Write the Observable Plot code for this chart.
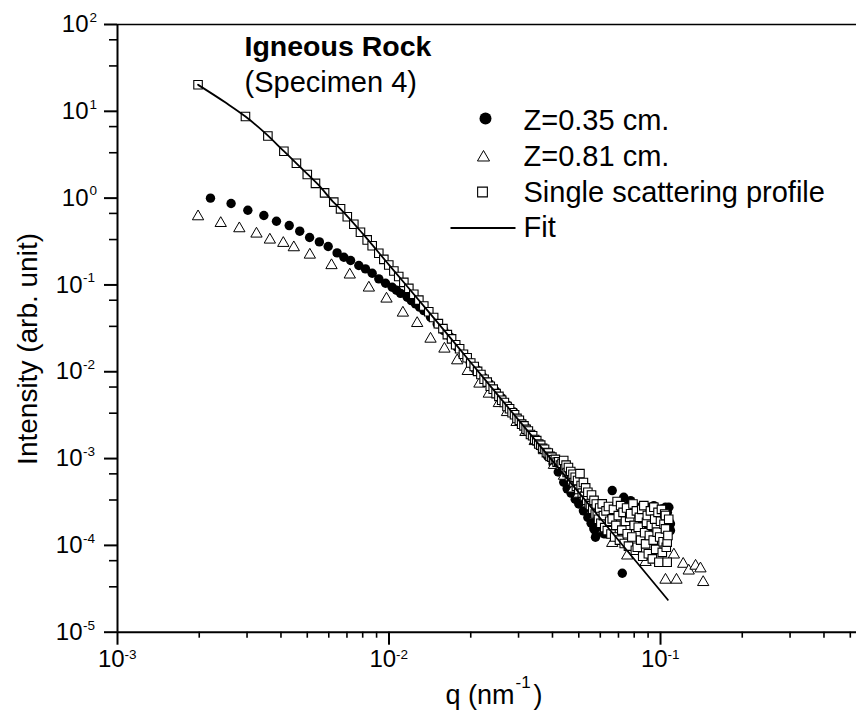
<!DOCTYPE html>
<html>
<head>
<meta charset="utf-8">
<script src="https://cdn.jsdelivr.net/npm/d3@7"></script>
<script src="https://cdn.jsdelivr.net/npm/@observablehq/plot@0.6"></script>
<style>
  html, body { margin: 0; padding: 0; background: #fff; }
  #chart svg { display: block; }
</style>
</head>
<body>
<div id="chart"></div>
<script>
// ---------- data ----------
// Z = 0.35 cm (filled circles)
const circleQ = [0.00220,0.00262,0.00302,0.00346,0.00385,0.00429,0.00469,0.00510,0.00554,0.00597,0.00644,0.00682,0.00722,0.00774,0.00819,0.00867,0.00917,0.00971,0.01027,0.01065,0.01103,0.01167,0.01208,0.01252,0.01296,0.01343,0.01422,0.01505,0.01592,0.01685,
  0.0178,0.0188,0.0199,0.0210,0.0222,0.0234,0.0247,0.0260,0.0274,0.0288,0.0303,0.0318,0.0334,0.0350,0.0367,0.0384,0.0402,0.0420,0.0440,0.0453,0.0468,0.0485,0.0500,0.0520,0.0540,0.0555,
  0.0568,0.0568,0.0576,0.0580,0.0585,0.0601,0.0618,0.0627,0.0637,0.0650,0.0664,0.0690,0.0723,0.0732,0.0754,0.0776,0.0800,0.0821,0.0850,0.0894,0.0894,0.0920,0.0945,0.0980,0.1015,0.1043,0.1060,0.1073,0.1073,0.1088,0.1088];
const circleI = [1.00,0.867,0.726,0.630,0.542,0.483,0.416,0.352,0.313,0.277,0.234,0.2085,0.191,0.1675,0.153,0.1365,0.1175,0.1045,0.094,0.087,0.080,0.0721,0.066,0.0605,0.0555,0.0507,0.0425,0.0356,0.0298,0.0250,
  0.0193,0.0157,0.0128,0.0106,0.0087,0.0073,0.0060,0.0050,0.0041,0.00345,0.00280,0.00232,0.00190,0.00156,0.00128,0.00106,0.00087,0.00070,5.33e-4,4.48e-4,4.0e-4,3.4e-4,3.0e-4,2.5e-4,2.1e-4,1.8e-4,
  1.93e-4,1.55e-4,1.24e-4,1.36e-4,1.55e-4,1.69e-4,1.36e-4,1.36e-4,1.36e-4,2.2e-4,4.28e-4,2.6e-4,4.77e-5,3.58e-4,2.87e-4,3.28e-4,2.4e-4,2.75e-4,1.9e-4,2.75e-4,1.48e-4,2.2e-4,2.87e-4,2.5e-4,2.63e-4,2.75e-4,2.4e-4,2.75e-4,1.93e-4,1.77e-4,1.48e-4];

// Z = 0.81 cm (open triangles)
const triangleQ = [0.00198,0.00240,0.00281,0.00325,0.00364,0.00408,0.00446,0.00511,0.00614,0.00717,0.00843,0.00979,0.01125,0.0127,0.01422,0.0160,0.01783,0.0195,0.02153,0.02331,0.02538,0.0272,0.0295,0.0318,0.0344,0.0372,0.0405,0.0441,0.0478,0.0500,0.0537,0.0575,0.0620,0.0664,0.0754,0.0881,0.1043,0.1120,0.1145,0.1212,0.1270,0.1346,0.1403,0.1436];
const triangleI = [0.614,0.514,0.447,0.388,0.331,0.303,0.270,0.222,0.168,0.131,0.0927,0.0692,0.0477,0.0362,0.0239,0.01836,0.01346,0.01014,0.00726,0.00556,0.00433,0.00341,0.00262,0.00201,0.00158,0.00124,8.4e-4,6.3e-4,4.5e-4,3.92e-4,3.28e-4,2.2e-4,1.55e-4,1.06e-4,7.6e-5,6.4e-5,4.0e-5,7.8e-5,4.0e-5,6.1e-5,5.1e-5,5.8e-5,5.4e-5,3.76e-5];

// Single scattering profile (open squares)
const squareQ = [0.00198,0.00296,0.00358,0.00410,0.00456,0.00500,0.00536,0.00579,0.00626,0.00663,0.00702,0.00742,0.00785,0.00831,0.00867,0.00917,0.00957,0.00998,0.01042,0.01086,0.01134,0.01183,0.01234,0.01288,0.01343,0.01401,
  0.0146,0.0152,0.0158,0.0164,0.0170,0.0176,0.0182,0.0188,0.0194,0.0200,0.0206,0.0212,0.0218,0.0224,0.0230,0.0236,0.0242,0.0248,0.0254,0.0260,0.0266,0.0272,0.0278,0.0284,0.0290,0.0296,0.0302,0.0308,0.0314,0.0320,0.0326,0.0332,0.0338,0.0344,0.0350,0.0356,0.0362,0.0368,0.0374,0.0380,0.0386,0.0392,0.0398,0.0404,0.0410,0.0416,0.0422,0.0428,0.0434,
  0.0440,0.0444,0.0449,0.0453,0.0458,0.0462,0.0467,0.0471,0.0476,0.0480,0.0485,0.0490,0.0495,0.0500,0.0505,0.0510,0.0515,0.0520,0.0525,0.0530,0.0535,0.0540,0.0546,0.0552,0.0557,0.0563,0.0569,0.0575,0.0580,0.0585,0.0591,0.0597,0.0603,0.0610,0.0616,0.0623,0.0630,0.0637,0.0643,0.0650,0.0657,0.0664,0.0671,0.0678,0.0685,0.0692,0.0699,0.0706,0.0713,0.0720,0.0728,0.0735,0.0743,0.0750,0.0754,0.0762,0.0770,0.0776,0.0784,0.0792,0.0800,0.0808,0.0815,0.0821,0.0828,0.0836,0.0845,0.0853,0.0860,0.0868,0.0874,0.0881,0.0888,0.0894,0.0902,0.0910,0.0918,0.0925,0.0933,0.0940,0.0945,0.0952,0.0960,0.0966,0.0972,0.0979,0.0986,0.0993,0.1000,0.1008,0.1015,0.1022,0.1030,0.1036,0.1043,0.1043,0.1050,0.1058,0.1058,0.1065,0.1072];
const squareI = [20.2,8.7,5.2,3.47,2.52,1.87,1.48,1.15,0.90,0.753,0.61,0.50,0.405,0.33,0.283,0.232,0.197,0.170,0.145,0.125,0.107,0.0912,0.078,0.0668,0.0573,0.0492,
  0.0421,0.0358,0.0314,0.0268,0.0239,0.0205,0.0184,0.0159,0.0145,0.0126,0.0115,0.0101,0.0093,0.0082,0.0076,0.0068,0.0063,0.0056,0.0052,0.0047,0.00442,0.00398,0.00375,0.00337,0.00320,0.00290,0.00276,0.00249,0.00238,0.00217,0.00208,0.00189,0.00183,0.00166,0.00161,0.00147,0.00143,0.00131,0.00128,0.00117,0.00116,0.00106,0.00104,0.00097,0.00098,0.00091,0.00092,0.00084,0.00088,
  9.5e-4,7.6e-4,8.4e-4,6.9e-4,7.9e-4,6.2e-4,7.1e-4,5.7e-4,6.6e-4,5.3e-4,6.1e-4,4.8e-4,5.6e-4,4.4e-4,6.7e-4,4.9e-4,4.0e-4,5.3e-4,3.7e-4,4.6e-4,3.3e-4,4.1e-4,3.0e-4,2.87e-4,3.8e-4,2.6e-4,3.3e-4,2.3e-4,3.0e-4,2.31e-4,2.0e-4,2.7e-4,1.8e-4,3.01e-4,2.2e-4,1.6e-4,2.5e-4,1.48e-4,2.8e-4,1.9e-4,1.35e-4,2.02e-4,2.6e-4,1.25e-4,1.7e-4,3.2e-4,2.2e-4,1.15e-4,2.87e-4,1.5e-4,2.4e-4,1.05e-4,1.9e-4,2.7e-4,1.36e-4,9.8e-5,2.1e-4,2.31e-4,1.25e-4,3.0e-4,1.7e-4,8.8e-5,2.5e-4,9.5e-5,1.62e-4,2.1e-4,1.15e-4,2.6e-4,7.5e-5,2.87e-4,1.4e-4,1.04e-4,1.85e-4,2.21e-4,8.0e-5,1.3e-4,2.5e-4,1.7e-4,7.0e-5,1.15e-4,2.75e-4,2.0e-4,9.0e-5,1.6e-4,1.42e-4,2.4e-4,6.4e-5,1.25e-4,1.9e-4,2.6e-4,8.3e-5,1.1e-4,1.75e-4,2.3e-4,1.55e-4,2.21e-4,9.5e-5,6.4e-5,1.09e-4,1.3e-4,2.0e-4];

// Fit curve
const fitQ = [0.00198,0.0025,0.00296,0.0035,0.0041,0.00456,0.0050,0.0055,0.0062,0.00662,0.0080,0.0100,0.0142,0.0200,0.0258,0.0400,0.0601,0.1064];
const fitI = [20.2,12.6,8.7,5.6,3.47,2.52,1.90,1.42,0.92,0.753,0.39,0.170,0.0465,0.0128,0.00491,9.4e-4,2.04e-4,2.36e-5];

// Axis ticks
const xTickExponents = [-3, -2, -1];
const yTickExponents = [-5, -4, -3, -2, -1, 0, 1, 2];
const xMinorTicks = [0.002,0.003,0.004,0.005,0.006,0.007,0.008,0.009,0.02,0.03,0.04,0.05,0.06,0.07,0.08,0.09,0.2,0.3,0.4,0.5];
const yMinorTicks = [3.333e-5,6.667e-5,3.333e-4,6.667e-4,3.333e-3,6.667e-3,3.333e-2,6.667e-2,0.3333,0.6667,3.333,6.667,33.33,66.67];

// Text
const xTitle = ["q (nm", "-1", ")"];
const yTitle = "Intensity (arb. unit)";
const annotTitle = "Igneous Rock";
const annotSub = "(Specimen 4)";
const legendLabels = ["Z=0.35 cm.", "Z=0.81 cm.", "Single scattering profile", "Fit"];

// ---------- tables ----------
const toRows = (Q, I) => Q.map((q, i) => ({q, I: I[i]}));
const circles = toRows(circleQ, circleI);
const triangles = toRows(triangleQ, triangleI);
const squares = toRows(squareQ, squareI);
const fit = toRows(fitQ, fitI);

const font = "Liberation Sans, Arial, Helvetica, sans-serif";
const yPos = yTickExponents.filter(e => e >= 0);
const yNeg = yTickExponents.filter(e => e < 0);
const lineSymbol = {draw(ctx) { ctx.moveTo(-32.5, 0); ctx.lineTo(32.5, 0); }};

const chart = Plot.plot({
  width: 856,
  height: 712,
  marginLeft: 117,
  marginRight: 0,
  marginTop: 24,
  marginBottom: 80.3,
  style: {fontFamily: font, background: "#fff", color: "#000", overflow: "visible"},
  x: {type: "log", domain: [0.001, 0.527]},
  y: {type: "log", domain: [1e-5, 100]},
  marks: [
    // frame
    Plot.ruleY([100], {strokeWidth: 1.5}),
    Plot.ruleX([0.001], {strokeWidth: 2}),
    Plot.ruleY([1e-5], {strokeWidth: 2}),
    // ticks
    Plot.axisY({ticks: yTickExponents.map(e => 10 ** e), tickSize: 13, strokeWidth: 2, tickFormat: () => "", label: null}),
    Plot.axisY({ticks: yMinorTicks, tickSize: 8, strokeWidth: 1.6, tickFormat: () => "", label: null}),
    Plot.axisX({ticks: xTickExponents.map(e => 10 ** e), tickSize: 13, strokeWidth: 2, tickFormat: () => "", label: null}),
    Plot.axisX({ticks: xMinorTicks, tickSize: 6, strokeWidth: 1.6, tickFormat: () => "", label: null}),
    // y tick labels (10 with superscript exponent)
    Plot.text(yPos, {y: e => 10 ** e, text: () => "10", frameAnchor: "left", dx: -29, textAnchor: "end", fontSize: 24, fontFamily: font}),
    Plot.text(yPos, {y: e => 10 ** e, text: e => String(e), frameAnchor: "left", dx: -28, dy: -7, textAnchor: "start", fontSize: 13.5, fontFamily: font}),
    Plot.text(yNeg, {y: e => 10 ** e, text: () => "10", frameAnchor: "left", dx: -35, textAnchor: "end", fontSize: 24, fontFamily: font}),
    Plot.text(yNeg, {y: e => 10 ** e, text: e => String(e), frameAnchor: "left", dx: -34.5, dy: -7, textAnchor: "start", fontSize: 13.5, fontFamily: font}),
    // x tick labels
    Plot.text(xTickExponents, {x: e => 10 ** e, text: () => "10", frameAnchor: "bottom", dx: -19.5, dy: 35, textAnchor: "start", fontSize: 24, fontFamily: font}),
    Plot.text(xTickExponents, {x: e => 10 ** e, text: e => String(e), frameAnchor: "bottom", dx: 7, dy: 26.5, textAnchor: "start", fontSize: 13.5, fontFamily: font}),
    // axis titles
    Plot.text([xTitle[0]], {text: d => d, frameAnchor: "bottom-left", dx: 328, dy: 71.3, lineAnchor: "bottom", textAnchor: "start", fontSize: 27, fontFamily: font}),
    Plot.text([xTitle[1]], {text: d => d, frameAnchor: "bottom-left", dx: 398, dy: 56, lineAnchor: "bottom", textAnchor: "start", fontSize: 17, fontFamily: font}),
    Plot.text([xTitle[2]], {text: d => d, frameAnchor: "bottom-left", dx: 416, dy: 71.3, lineAnchor: "bottom", textAnchor: "start", fontSize: 27, fontFamily: font}),
    Plot.text([yTitle], {text: d => d, frameAnchor: "left", rotate: -90, dx: -81, dy: 20.6, lineAnchor: "bottom", textAnchor: "middle", fontSize: 28, fontFamily: font}),
    // data
    Plot.dot(circles, {x: "q", y: "I", r: 4.7, symbol: "circle", fill: "#000", stroke: "none"}),
    Plot.dot(triangles, {x: "q", y: "I", r: 4.2, symbol: "triangle", fill: "#fff", stroke: "#000", strokeWidth: 1}),
    Plot.dot(squares, {x: "q", y: "I", r: 4.8, symbol: "square", fill: "#fff", stroke: "#000", strokeWidth: 1.1}),
    Plot.line(fit, {x: "q", y: "I", curve: "monotone-x", stroke: "#000", strokeWidth: 1.8}),
    // annotation
    Plot.text([annotTitle], {text: d => d, frameAnchor: "top-left", dx: 127, dy: 31, lineAnchor: "bottom", textAnchor: "start", fontSize: 28.5, fontWeight: "bold", fontFamily: font}),
    Plot.text([annotSub], {text: d => d, frameAnchor: "top-left", dx: 127, dy: 67.5, lineAnchor: "bottom", textAnchor: "start", fontSize: 29, fontFamily: font}),
    // legend
    Plot.dot([0], {frameAnchor: "top-left", dx: 368, dy: 94, r: 6, symbol: "circle", fill: "#000", stroke: "none"}),
    Plot.dot([0], {frameAnchor: "top-left", dx: 366, dy: 133, r: 4.5, symbol: "triangle", fill: "#fff", stroke: "#000", strokeWidth: 1}),
    Plot.dot([0], {frameAnchor: "top-left", dx: 365, dy: 167.5, r: 5.5, symbol: "square", fill: "#fff", stroke: "#000", strokeWidth: 1.1}),
    Plot.dot([0], {frameAnchor: "top-left", dx: 365.5, dy: 203.5, r: 5, symbol: lineSymbol, fill: "none", stroke: "#000", strokeWidth: 2}),
    Plot.text([legendLabels[0]], {text: d => d, frameAnchor: "top-left", dx: 406, dy: 105, lineAnchor: "bottom", textAnchor: "start", fontSize: 29, fontFamily: font}),
    Plot.text([legendLabels[1]], {text: d => d, frameAnchor: "top-left", dx: 406, dy: 141, lineAnchor: "bottom", textAnchor: "start", fontSize: 29, fontFamily: font}),
    Plot.text([legendLabels[2]], {text: d => d, frameAnchor: "top-left", dx: 406, dy: 177, lineAnchor: "bottom", textAnchor: "start", fontSize: 29, fontFamily: font}),
    Plot.text([legendLabels[3]], {text: d => d, frameAnchor: "top-left", dx: 406, dy: 212.5, lineAnchor: "bottom", textAnchor: "start", fontSize: 29, fontFamily: font})
  ]
});
document.getElementById("chart").append(chart);
</script>
</body>
</html>
